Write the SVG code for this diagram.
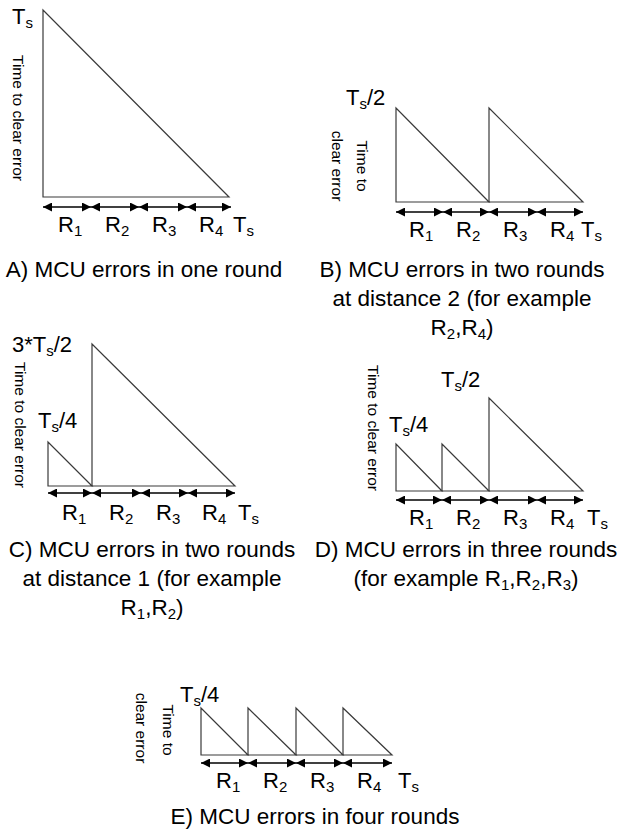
<svg xmlns="http://www.w3.org/2000/svg" width="624" height="833" viewBox="0 0 624 833">
<defs>
<marker id="ah" markerUnits="userSpaceOnUse" viewBox="0 0 10 10" refX="10" refY="5" markerWidth="10" markerHeight="9" orient="auto-start-reverse">
<path d="M0,0 L10,5 L0,10 z" fill="#000"/>
</marker>
<style>
text{font-family:"Liberation Sans",Arial,sans-serif;fill:#000}
.lbl{font-size:22px}
.sub{font-size:15px}
.csub{font-size:15px}
.cap{font-size:22.5px;text-anchor:middle}
.rot{font-size:15.5px}
.rotm{font-size:15.5px;text-anchor:middle}
.tri{fill:none;stroke:#3a3a3a;stroke-width:1.2;stroke-linejoin:miter}
.arr{stroke:#000;stroke-width:1.4;marker-start:url(#ah);marker-end:url(#ah)}
</style>
</defs>
<rect width="624" height="833" fill="#fff"/>

<g id="panelA">
<polygon class="tri" points="43,10 43,197 229,197"/>
<text class="lbl" x="12" y="24">T<tspan class="sub" dy="4">s</tspan></text>
<text class="rot" transform="translate(13,55) rotate(90)">Time to clear error</text>
<g id="connA">
<line class="arr" x1="43" y1="207" x2="91" y2="207"/>
<line class="arr" x1="91" y1="207" x2="139" y2="207"/>
<line class="arr" x1="139" y1="207" x2="187" y2="207"/>
<line class="arr" x1="187" y1="207" x2="231" y2="207"/>
</g>
<text class="lbl" x="58" y="232">R<tspan class="sub" dy="4">1</tspan></text>
<text class="lbl" x="105" y="232">R<tspan class="sub" dy="4">2</tspan></text>
<text class="lbl" x="152" y="232">R<tspan class="sub" dy="4">3</tspan></text>
<text class="lbl" x="199" y="232">R<tspan class="sub" dy="4">4</tspan></text>
<text class="lbl" x="233" y="232">T<tspan class="sub" dy="4">s</tspan></text>
<text class="cap" x="144" y="277">A) MCU errors in one round</text>
</g>

<g id="panelB">
<polygon class="tri" points="396,108 396,202 489,202"/>
<polygon class="tri" points="489,108 489,202 583,202"/>
<text class="lbl" x="346" y="105">T<tspan class="sub" dy="4">s</tspan><tspan dy="-4">/2</tspan></text>
<text class="rotm" transform="translate(357,166) rotate(90)">Time to</text>
<text class="rotm" transform="translate(332,166) rotate(90)">clear error</text>
<g id="connB">
<line class="arr" x1="396" y1="212" x2="443" y2="212"/>
<line class="arr" x1="443" y1="212" x2="489" y2="212"/>
<line class="arr" x1="489" y1="212" x2="537" y2="212"/>
<line class="arr" x1="537" y1="212" x2="583" y2="212"/>
</g>
<text class="lbl" x="409" y="237">R<tspan class="sub" dy="4">1</tspan></text>
<text class="lbl" x="456" y="237">R<tspan class="sub" dy="4">2</tspan></text>
<text class="lbl" x="503" y="237">R<tspan class="sub" dy="4">3</tspan></text>
<text class="lbl" x="550" y="237">R<tspan class="sub" dy="4">4</tspan></text>
<text class="lbl" x="581" y="237">T<tspan class="sub" dy="4">s</tspan></text>
<text class="cap" x="462" y="277">B) MCU errors in two rounds</text>
<text class="cap" x="462" y="306">at distance 2 (for example</text>
<text class="cap" x="462" y="335">R<tspan class="csub" dy="4">2</tspan><tspan dy="-4">,R</tspan><tspan class="csub" dy="4">4</tspan><tspan dy="-4">)</tspan></text>
</g>

<g id="panelC">
<polygon class="tri" points="48,442 48,486 92,486"/>
<polygon class="tri" points="92,344 92,486 235,486"/>
<text class="lbl" x="12" y="352">3*T<tspan class="sub" dy="4">s</tspan><tspan dy="-4">/2</tspan></text>
<text class="lbl" x="38" y="428">T<tspan class="sub" dy="4">s</tspan><tspan dy="-4">/4</tspan></text>
<text class="rot" transform="translate(15,362) rotate(90)">Time to clear error</text>
<g id="connC">
<line class="arr" x1="48" y1="493" x2="92" y2="493"/>
<line class="arr" x1="92" y1="493" x2="141" y2="493"/>
<line class="arr" x1="141" y1="493" x2="188" y2="493"/>
<line class="arr" x1="188" y1="493" x2="235" y2="493"/>
</g>
<text class="lbl" x="62" y="520">R<tspan class="sub" dy="4">1</tspan></text>
<text class="lbl" x="109" y="520">R<tspan class="sub" dy="4">2</tspan></text>
<text class="lbl" x="156" y="520">R<tspan class="sub" dy="4">3</tspan></text>
<text class="lbl" x="202" y="520">R<tspan class="sub" dy="4">4</tspan></text>
<text class="lbl" x="238" y="520">T<tspan class="sub" dy="4">s</tspan></text>
<text class="cap" x="152" y="557">C) MCU errors in two rounds</text>
<text class="cap" x="152" y="586">at distance 1 (for example</text>
<text class="cap" x="152" y="615">R<tspan class="csub" dy="4">1</tspan><tspan dy="-4">,R</tspan><tspan class="csub" dy="4">2</tspan><tspan dy="-4">)</tspan></text>
</g>

<g id="panelD">
<polygon class="tri" points="396,444 396,491 442,491"/>
<polygon class="tri" points="442,444 442,491 489,491"/>
<polygon class="tri" points="489,398 489,491 583,491"/>
<text class="lbl" x="441" y="387">T<tspan class="sub" dy="4">s</tspan><tspan dy="-4">/2</tspan></text>
<text class="lbl" x="389" y="432">T<tspan class="sub" dy="4">s</tspan><tspan dy="-4">/4</tspan></text>
<text class="rot" transform="translate(368,365) rotate(90)">Time to clear error</text>
<g id="connD">
<line class="arr" x1="396" y1="500" x2="442" y2="500"/>
<line class="arr" x1="442" y1="500" x2="489" y2="500"/>
<line class="arr" x1="489" y1="500" x2="537" y2="500"/>
<line class="arr" x1="537" y1="500" x2="583" y2="500"/>
</g>
<text class="lbl" x="409" y="525">R<tspan class="sub" dy="4">1</tspan></text>
<text class="lbl" x="456" y="525">R<tspan class="sub" dy="4">2</tspan></text>
<text class="lbl" x="503" y="525">R<tspan class="sub" dy="4">3</tspan></text>
<text class="lbl" x="550" y="525">R<tspan class="sub" dy="4">4</tspan></text>
<text class="lbl" x="587" y="525">T<tspan class="sub" dy="4">s</tspan></text>
<text class="cap" x="466" y="557">D) MCU errors in three rounds</text>
<text class="cap" x="466" y="586">(for example R<tspan class="csub" dy="4">1</tspan><tspan dy="-4">,R</tspan><tspan class="csub" dy="4">2</tspan><tspan dy="-4">,R</tspan><tspan class="csub" dy="4">3</tspan><tspan dy="-4">)</tspan></text>
</g>

<g id="panelE">
<polygon class="tri" points="201,708 201,755 248,755"/>
<polygon class="tri" points="248,708 248,755 296,755"/>
<polygon class="tri" points="296,708 296,755 343,755"/>
<polygon class="tri" points="343,708 343,755 392,755"/>
<text class="lbl" x="180" y="702">T<tspan class="sub" dy="4">s</tspan><tspan dy="-4">/4</tspan></text>
<text class="rotm" transform="translate(163,730) rotate(90)">Time to</text>
<text class="rotm" transform="translate(136,728) rotate(90)">clear error</text>
<g id="connE">
<line class="arr" x1="201" y1="763" x2="248" y2="763"/>
<line class="arr" x1="248" y1="763" x2="296" y2="763"/>
<line class="arr" x1="296" y1="763" x2="343" y2="763"/>
<line class="arr" x1="343" y1="763" x2="392" y2="763"/>
</g>
<text class="lbl" x="216" y="788">R<tspan class="sub" dy="4">1</tspan></text>
<text class="lbl" x="263" y="788">R<tspan class="sub" dy="4">2</tspan></text>
<text class="lbl" x="310" y="788">R<tspan class="sub" dy="4">3</tspan></text>
<text class="lbl" x="357" y="788">R<tspan class="sub" dy="4">4</tspan></text>
<text class="lbl" x="398" y="788">T<tspan class="sub" dy="4">s</tspan></text>
<text class="cap" x="315" y="824">E) MCU errors in four rounds</text>
</g>
</svg>
